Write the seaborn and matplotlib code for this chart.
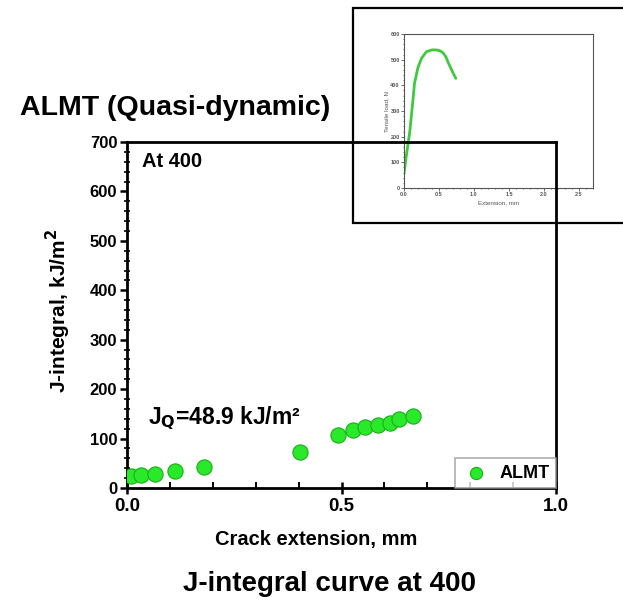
import matplotlib
matplotlib.use("Agg")
import matplotlib.pyplot as plt
import seaborn as sns
from matplotlib.patches import Rectangle
from matplotlib.ticker import MultipleLocator, FormatStrFormatter

sns.set_theme(style="white")
plt.rcParams['font.family'] = ['Liberation Sans', 'DejaVu Sans']
plt.rcParams['font.weight'] = 'bold'
plt.rcParams['text.color'] = 'black'
plt.rcParams['axes.labelcolor'] = 'black'
plt.rcParams['xtick.color'] = 'black'
plt.rcParams['ytick.color'] = 'black'

# Main J-R data
crack_ext = [0.009, 0.033, 0.065, 0.112, 0.18, 0.404, 0.493, 0.526, 0.554, 0.585, 0.612, 0.633, 0.666]
j_integral = [25, 27, 29, 35, 43, 73, 108, 118, 123, 127, 132, 139, 145]
series_name = "ALMT"

# Inset tensile curve
ext_mm = [0.0, 0.03, 0.08, 0.12, 0.15, 0.2, 0.25, 0.32, 0.4, 0.46, 0.52, 0.56, 0.6, 0.63, 0.68, 0.74]
load_n = [55, 120, 214, 320, 408, 470, 505, 531, 538, 538, 534, 526, 510, 490, 460, 427]

W, H = 623, 607
fig = plt.figure(figsize=(W / 100, H / 100), dpi=100)

def fx(px):
    return px / W

def fy(py):
    return 1 - py / H

# inset frame
frame = Rectangle((fx(352.5), fy(223)), fx(700) - fx(352.5), fy(8.5) - fy(223),
                  transform=fig.transFigure, fill=True, facecolor='white',
                  edgecolor='black', linewidth=1.6, zorder=0.5)
fig.patches.append(frame)

# inset axes
axi = fig.add_axes([fx(404), fy(188), fx(593) - fx(404), fy(34) - fy(188)], zorder=1)
sns.lineplot(x=ext_mm, y=load_n, ax=axi, color='#3fc93f', linewidth=2.0)
axi.set_xlim(0, 2.7)
axi.set_ylim(0, 600)
axi.xaxis.set_major_locator(MultipleLocator(0.5))
axi.yaxis.set_major_locator(MultipleLocator(100))
axi.xaxis.set_minor_locator(MultipleLocator(0.1))
axi.yaxis.set_minor_locator(MultipleLocator(20))
axi.tick_params(which='both', labelsize=4, colors='#555555', length=2, width=0.6, direction='out',
                left=True, bottom=True, pad=1)
axi.tick_params(which='minor', length=1)
axi.set_xlabel('Extension, mm', fontsize=4.5, color='#555555', labelpad=2)
axi.set_ylabel('Tensile load, N', fontsize=4.5, color='#555555', labelpad=1)
for s in axi.spines.values():
    s.set_color('#555555')
    s.set_linewidth(0.8)

# main axes
ax = fig.add_axes([fx(127), fy(488), fx(556) - fx(127), fy(142) - fy(488)], zorder=2)
ax.set_facecolor('none')
sns.scatterplot(x=crack_ext, y=j_integral, ax=ax, s=120, color='#2ae82a',
                edgecolor='#18b018', linewidth=0.8, label=series_name, zorder=3)
ax.set_xlim(0, 1.0)
ax.set_ylim(0, 700)
ax.xaxis.set_major_locator(MultipleLocator(0.5))
ax.xaxis.set_minor_locator(MultipleLocator(0.1))
ax.yaxis.set_major_locator(MultipleLocator(100))
ax.yaxis.set_minor_locator(MultipleLocator(20))
ax.xaxis.set_major_formatter(FormatStrFormatter('%.1f'))
ax.tick_params(axis='x', which='major', direction='inout', length=8, width=1.8, labelsize=13.5, pad=3)
ax.tick_params(axis='x', which='minor', direction='in', length=4, width=1.4)
ax.tick_params(axis='y', which='major', direction='out', length=5, width=1.8, labelsize=12, pad=2)
ax.tick_params(axis='y', which='minor', direction='inout', length=4, width=1.2)
ax.tick_params(which='both', bottom=True, left=True, top=False, right=False, colors='black')
for lab in ax.get_xticklabels() + ax.get_yticklabels():
    lab.set_fontweight('bold')
for s in ax.spines.values():
    s.set_color('black')
    s.set_linewidth(2.0)

ax.set_xlabel('Crack extension, mm', fontsize=14.5, fontweight='bold')
ax.xaxis.set_label_coords(0.44, (488 - 540) / 346)
ax.xaxis.label.set_va('center')
ax.set_ylabel('J-integral, kJ/m$^{\\mathbf{2}}$', fontsize=15, fontweight='bold')
ax.yaxis.set_label_coords((58 - 127) / 429, (488 - 311) / 346)
ax.yaxis.label.set_va('center')

ax.text((142 - 127) / 429, (488 - 152) / 346, 'At 400', transform=ax.transAxes, fontsize=14.5,
        fontweight='bold', ha='left', va='top')
ax.text((148 - 127) / 429, (488 - 418) / 346, 'J$_{\\mathbf{Q}}$=48.9 kJ/m²', transform=ax.transAxes,
        fontsize=16.5, fontweight='bold', ha='left', va='center')

leg = ax.legend(loc='lower right', fontsize=13, frameon=True, borderaxespad=0.0,
                handletextpad=0.5, borderpad=0.35, fancybox=False, markerscale=0.8,
                handlelength=1.6)
leg.get_frame().set_edgecolor('#999999')
leg.get_frame().set_linewidth(1.2)
for t in leg.get_texts():
    t.set_fontweight('bold')
    t.set_color('black')

fig.text(fx(20), fy(108), 'ALMT (Quasi-dynamic)', fontsize=20.5, fontweight='bold',
         ha='left', va='center', color='black')
fig.text(fx(330), fy(584), 'J-integral curve at 400', fontsize=20, fontweight='bold',
         ha='center', va='center', color='black')

fig.savefig('out.png', dpi=100)
